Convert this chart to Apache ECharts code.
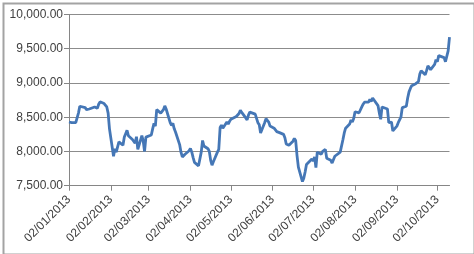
<!DOCTYPE html>
<html>
<head>
<meta charset="utf-8">
<script src="https://cdn.jsdelivr.net/npm/echarts@6/dist/echarts.min.js"></script>
<style>
html,body{margin:0;padding:0;background:#fff;}
#c{width:474px;height:254px;}
</style>
</head>
<body>
<div id="c"></div>
<script>
// First and last trading day shown (weekdays in between carry one value each)
const firstDay = [2013, 0, 2];
const lastDay = [2013, 9, 11];
// Daily closing values (weekdays)
const values = [
  8430, 8445, 8420,
  8420, 8440, 8560, 8660, 8675,
  8640, 8610, 8590, 8620, 8630,
  8650, 8670, 8630, 8690, 8725,
  8700, 8680, 8650, 8560, 8330,
  7930, 8040, 7990, 8010, 8140,
  8090, 8210, 8260, 8310, 8230,
  8175, 8150, 8120, 8215, 8030,
  8230, 8150, 8000, 8210, 8230,
  8240, 8330, 8410, 8370, 8610,
  8560, 8540, 8610, 8665, 8620,
  8420, 8380, 8410, 8330, 8280,
  8100, 7990, 7920, 7940, 7960,
  8010, 8045, 7990, 7910, 7840,
  7790, 7795, 7990, 8160, 8080,
  8040, 8000, 7870, 7800, 7850,
  7990, 8030, 8350, 8385, 8340,
  8430, 8400, 8440, 8470, 8460,
  8510, 8530, 8555, 8600, 8570,
  8490, 8460, 8530, 8575, 8580,
  8545, 8520, 8420, 8390, 8270,
  8420, 8480, 8500, 8430, 8370,
  8340, 8355, 8290, 8270, 8275,
  8250, 8200, 8110, 8110, 8090,
  8150, 8190, 8160, 7940, 7770,
  7560, 7610, 7700, 7810, 7810,
  7890, 7860, 7920, 7765, 7990,
  7960, 8000, 8020, 8030, 7900,
  7870, 7830, 7810, 7930, 7950,
  7990, 8010, 8170, 8270, 8340,
  8400, 8460, 8430, 8480, 8580,
  8565, 8560, 8650, 8690, 8720,
  8720, 8760, 8730, 8780, 8800,
  8670, 8560, 8470, 8650, 8660,
  8620, 8420, 8400, 8430, 8300,
  8370, 8420, 8460, 8500, 8640,
  8660, 8780, 8870, 8920, 8960,
  8990, 9005, 9020, 9130, 9180,
  9120, 9180, 9250, 9230, 9195,
  9270, 9340, 9310, 9400, 9410,
  9370, 9310, 9330, 9470, 9670
];
// x-axis tick dates (day, month index) in 2013
const tickDays = [[2,0],[2,1],[2,2],[2,3],[2,4],[2,5],[2,6],[2,7],[2,8],[2,9]];
// y-axis
const yMin = 7500, yMax = 10000, yStep = 500;

const start = new Date(firstDay[0], firstDay[1], firstDay[2]);
const end = new Date(lastDay[0], lastDay[1], lastDay[2]);
const dates = [];
for (let d = new Date(start); d <= end; d.setDate(d.getDate() + 1)) {
  const w = d.getDay();
  if (w !== 0 && w !== 6) dates.push(d.getTime());
}
const data = dates.map((t, i) => [t, values[i]]).filter(p => p[1] != null);
const ticks = tickDays.map(p => new Date(2013, p[1], p[0]).getTime());

const pad = n => (n < 10 ? '0' : '') + n;
const fmtDate = v => { const d = new Date(v); return pad(d.getDate()) + '/' + pad(d.getMonth() + 1) + '/' + d.getFullYear(); };
const fmtNum = v => v.toLocaleString('en-US', {minimumFractionDigits: 2, maximumFractionDigits: 2});

const font = 'Liberation Sans';
const chart = echarts.init(document.getElementById('c'), null, {renderer: 'canvas'});
chart.setOption({
  animation: false,
  backgroundColor: '#ffffff',
  graphic: [{
    type: 'rect', left: 1, top: 1, z: 100, silent: true,
    shape: {width: 471, height: 251},
    style: {fill: 'none', stroke: '#a3a3a3', lineWidth: 2}
  }],
  grid: {left: 69, right: 24.5, top: 14.5, bottom: 68.3, containLabel: false},
  xAxis: {
    type: 'value',
    min: start.getTime(),
    max: end.getTime(),
    axisLine: {show: true, lineStyle: {color: '#868686', width: 1}},
    axisTick: {show: true, customValues: ticks, length: 5, lineStyle: {color: '#868686'}},
    axisLabel: {
      customValues: ticks, rotate: 45, margin: 12, formatter: fmtDate,
      fontFamily: font, fontSize: 12, color: '#404040', hideOverlap: false
    },
    splitLine: {show: false}
  },
  yAxis: {
    type: 'value', min: yMin, max: yMax, interval: yStep,
    axisLine: {show: true, lineStyle: {color: '#868686', width: 1}},
    axisTick: {show: true, length: 5, lineStyle: {color: '#868686'}},
    axisLabel: {formatter: fmtNum, fontFamily: font, fontSize: 12, color: '#404040', margin: 6},
    splitLine: {show: true, lineStyle: {color: '#8c8c8c', width: 1}}
  },
  series: [{
    type: 'line', data: data, showSymbol: false, smooth: false,
    lineStyle: {color: '#4577b6', width: 2.8},
    itemStyle: {color: '#4577b6'}
  }]
});
</script>
</body>
</html>
